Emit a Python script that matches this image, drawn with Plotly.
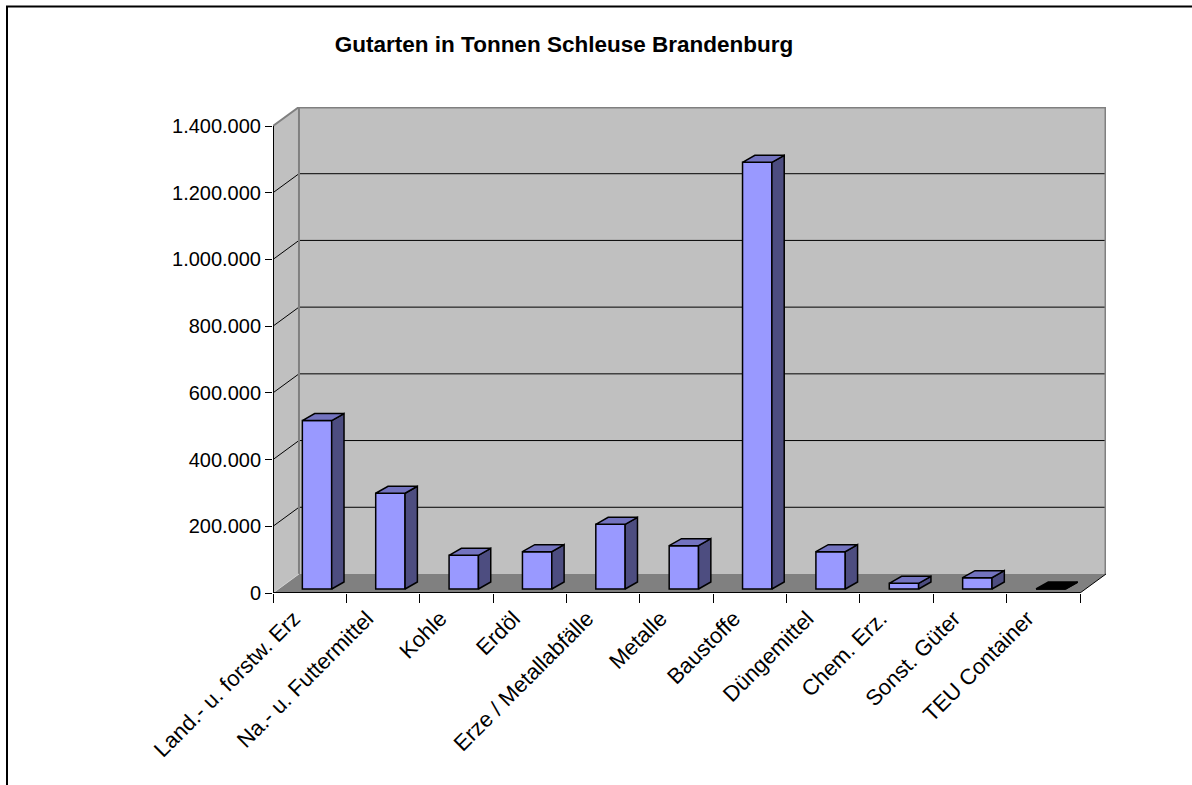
import plotly.graph_objects as go

categories = ["Land.- u. forstw. Erz", "Na.- u. Futtermittel", "Kohle", "Erdöl",
              "Erze / Metallabfälle", "Metalle", "Baustoffe", "Düngemittel",
              "Chem. Erz.", "Sonst. Güter", "TEU Container"]
tonnen = [505000, 287000, 101000, 112000, 194000, 130000, 1279000, 112000, 17000, 34000, 0]
y_ticks = [0, 200000, 400000, 600000, 800000, 1000000, 1200000, 1400000]
title = "Gutarten in Tonnen Schleuse Brandenburg"

# pseudo-3D geometry in data units
DEPTH_X = 0.354     # wall depth along x (category units)
DEPTH_Y = 57000     # wall depth along y (tonnes)
BAR_W = 0.40
BAR_SHIFT = 0.10
BAR_BASE = 12000
BAR_DX = 0.168
BAR_DY = 21000

FONT = "Arial, Liberation Sans, sans-serif"
WALL = "#c0c0c0"
FLOOR = "#808080"
EDGE = "#808080"

x_lo = -0.5
x_hi = len(categories) - 0.5
y_hi = y_ticks[-1]

W, H = 1192, 785
left, right, top, bottom = 273, 1106, 107, 593


def line(x0, y0, x1, y1, color="black", width=1, layer="below"):
    return dict(type="line", xref="x", yref="y", x0=x0, y0=y0, x1=x1, y1=y1,
                line=dict(color=color, width=width), layer=layer)


def poly(pts, fill):
    path = "M " + " L ".join(f"{x},{y}" for x, y in pts) + " Z"
    return dict(type="path", xref="x", yref="y", path=path, fillcolor=fill,
                line=dict(width=0), layer="below")


shapes = []
# left side wall
shapes.append(poly([(x_lo, 0), (x_lo + DEPTH_X, DEPTH_Y),
                    (x_lo + DEPTH_X, y_hi + DEPTH_Y), (x_lo, y_hi)], WALL))
# back wall
shapes.append(poly([(x_lo + DEPTH_X, DEPTH_Y), (x_hi + DEPTH_X, DEPTH_Y),
                    (x_hi + DEPTH_X, y_hi + DEPTH_Y), (x_lo + DEPTH_X, y_hi + DEPTH_Y)], WALL))
# floor
shapes.append(poly([(x_lo, 0), (x_hi, 0), (x_hi + DEPTH_X, DEPTH_Y),
                    (x_lo + DEPTH_X, DEPTH_Y)], FLOOR))

# gridlines on back wall and side wall
for v in y_ticks[1:-1]:
    shapes.append(line(x_lo + DEPTH_X, v + DEPTH_Y, x_hi + DEPTH_X, v + DEPTH_Y))
    shapes.append(line(x_lo, v, x_lo + DEPTH_X, v + DEPTH_Y))

# wall edges
shapes.append(line(x_lo, y_hi, x_lo + DEPTH_X, y_hi + DEPTH_Y, EDGE, 2))
shapes.append(line(x_lo + DEPTH_X, y_hi + DEPTH_Y, x_hi + DEPTH_X, y_hi + DEPTH_Y, EDGE, 3))
shapes.append(line(x_hi + DEPTH_X, DEPTH_Y, x_hi + DEPTH_X, y_hi + DEPTH_Y, EDGE, 3))
shapes.append(line(x_lo + DEPTH_X, DEPTH_Y, x_lo + DEPTH_X, y_hi + DEPTH_Y, EDGE, 2))
shapes.append(line(x_lo, 0, x_lo + DEPTH_X, DEPTH_Y, "#d0d0d0", 1))

# front axes (width 2 -> half clipped at the plot edge)
shapes.append(line(x_lo, 0, x_lo, y_hi, "black", 2))
shapes.append(line(x_lo, 0, x_hi, 0, "black", 2))
shapes.append(line(x_hi, 0, x_hi + DEPTH_X, DEPTH_Y, "black", 1))

# outer chart border (top and left visible)
px = lambda p: (p - left) / (right - left)
py = lambda p: (bottom - p) / (bottom - top)
shapes.append(dict(type="line", xref="paper", yref="paper", x0=px(7), y0=py(H), x1=px(7), y1=py(6.5),
                   line=dict(color="black", width=2)))
shapes.append(dict(type="line", xref="paper", yref="paper", x0=px(6), y0=py(6.5), x1=px(W), y1=py(6.5),
                   line=dict(color="black", width=2)))

fig = go.Figure()

# front faces
fig.add_trace(go.Bar(
    x=[i + BAR_SHIFT for i in range(len(categories))],
    y=tonnen,
    base=BAR_BASE,
    width=BAR_W,
    marker=dict(color="#9999ff", line=dict(color="black", width=1.5)),
    hovertext=categories,
    hoverinfo="text+y",
    showlegend=False,
))

# side and top faces
for i, v in enumerate(tonnen):
    x1 = i + BAR_SHIFT + BAR_W / 2
    x0 = x1 - BAR_W
    t = BAR_BASE + v
    fig.add_trace(go.Scatter(
        x=[x1, x1 + BAR_DX, x1 + BAR_DX, x1, x1],
        y=[BAR_BASE, BAR_BASE + BAR_DY, t + BAR_DY, t, BAR_BASE],
        mode="lines", fill="toself", fillcolor="#4d4d80",
        line=dict(color="black", width=1.5), hoverinfo="skip", showlegend=False,
    ))
    fig.add_trace(go.Scatter(
        x=[x0, x1, x1 + BAR_DX, x0 + BAR_DX, x0],
        y=[t, t, t + BAR_DY, t + BAR_DY, t],
        mode="lines", fill="toself", fillcolor="#000000" if v == 0 else "#7373bf",
        line=dict(color="black", width=1.5), hoverinfo="skip", showlegend=False,
    ))

fig.update_layout(
    width=W, height=H, autosize=False,
    margin=dict(l=left, r=W - right, t=top, b=H - bottom, pad=0),
    paper_bgcolor="white", plot_bgcolor="white",
    separators=",.",
    font=dict(family=FONT, size=20, color="black"),
    title=dict(text=title, xref="container", yref="container",
               x=564 / W, y=1 - 44 / H, xanchor="center", yanchor="middle",
               font=dict(family=FONT, size=22.5, color="black", weight="bold")),
    shapes=shapes,
    xaxis=dict(
        range=[x_lo, x_hi + DEPTH_X],
        tickmode="array", tickvals=list(range(len(categories))), ticktext=categories,
        tickangle=-45, ticks="outside", ticklen=3, tickcolor="rgba(0,0,0,0)",
        ticklabelshift=-16,
        minor=dict(tickmode="array", tickvals=[i - 0.5 for i in range(len(categories) + 1)],
                   ticks="outside", ticklen=9, tickwidth=1, tickcolor="black", showgrid=False),
        showgrid=False, zeroline=False, showline=False, fixedrange=True,
        tickfont=dict(family=FONT, size=22, color="black"),
    ),
    yaxis=dict(
        range=[0, y_hi + DEPTH_Y],
        tickmode="array", tickvals=y_ticks, tickformat=",d",
        ticks="outside", ticklen=7, tickwidth=1, tickcolor="black",
        showgrid=False, zeroline=False, showline=False, fixedrange=True,
        tickfont=dict(family=FONT, size=20, color="black"),
    ),
)

fig.write_html("out.html", config={"displayModeBar": False},
               post_script="document.body.style.margin='0';")
